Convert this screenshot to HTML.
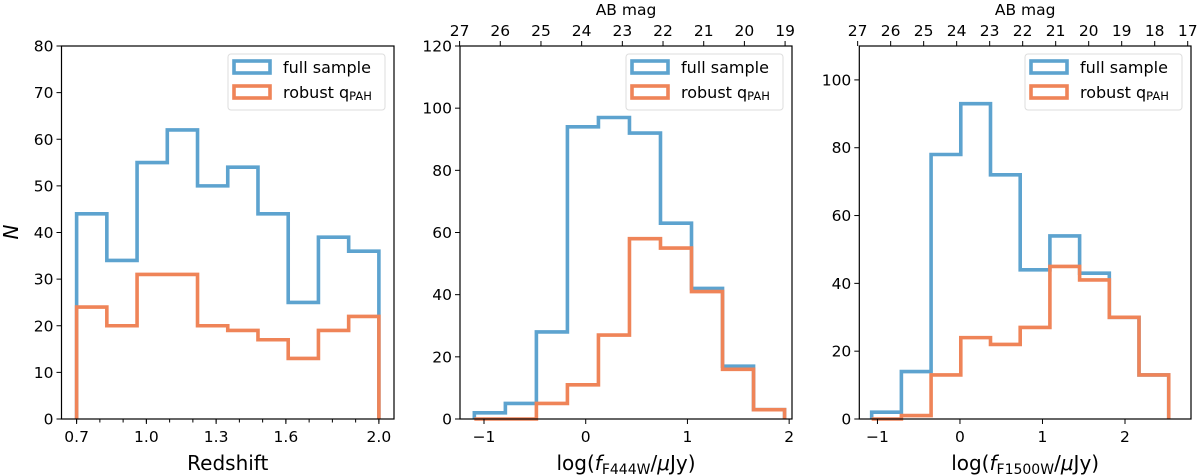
<!DOCTYPE html>
<html><head><meta charset="utf-8">
<style>
html,body{margin:0;padding:0;background:#fff;}
svg{display:block;font-family:"DejaVu Sans","Liberation Sans",sans-serif;}
</style></head>
<body>
<svg id="chart" width="1200" height="476" viewBox="0 0 1200 476" xmlns="http://www.w3.org/2000/svg"></svg>
<script>
// Panel 1: redshift
const zEdges = [0.7,0.83,0.96,1.09,1.22,1.35,1.48,1.61,1.74,1.87,2.0];
const zFull = [44,34,55,62,50,54,44,25,39,36];
const zRobust = [24,20,31,31,20,19,17,13,19,22];
const zTicks = [0.7,1.0,1.3,1.6,2.0];
const zTickLabels = ["0.7","1.0","1.3","1.6","2.0"];
const zYTicks = [0,10,20,30,40,50,60,70,80];
// Panel 2: F444W
const f4Edges = [-1.095,-0.79,-0.485,-0.18,0.125,0.43,0.735,1.04,1.345,1.65,1.955];
const f4Full = [2,5,28,94,97,92,63,42,17,3];
const f4Robust = [0,0,5,11,27,58,55,41,16,3];
const f4Ticks = [-1,0,1,2];
const f4TickLabels = ["\u22121","0","1","2"];
const f4YTicks = [0,20,40,60,80,100,120];
const f4Mags = [27,26,25,24,23,22,21,20,19];
// Panel 3: F1500W
const f15Edges = [-1.07,-0.71,-0.35,0.01,0.37,0.73,1.09,1.45,1.81,2.17,2.53];
const f15Full = [2,14,78,93,72,44,54,43,30,13];
const f15Robust = [0,1,13,24,22,27,45,41,30,13];
const f15Ticks = [-1,0,1,2];
const f15TickLabels = ["\u22121","0","1","2"];
const f15YTicks = [0,20,40,60,80,100];
const f15Mags = [27,26,25,24,23,22,21,20,19,18,17];

const NS="http://www.w3.org/2000/svg";
const svg=document.getElementById('chart');
const BLUE="#5da3cf", ORANGE="#ef8458";
function el(tag,attrs,parent){const e=document.createElementNS(NS,tag);for(const k in attrs)e.setAttribute(k,attrs[k]);(parent||svg).appendChild(e);return e;}
function txt(s,attrs,parent){const t=el('text',attrs,parent);t.textContent=s;return t;}

function panel(cfg){
  const g=el('g',{});
  
  
  const L=cfg.L,R=cfg.R,T=46,B=419;
  const sx=v=>L+(v-cfg.xmin)/(cfg.xmax-cfg.xmin)*(R-L);
  const sy=v=>B-(v-0)/(cfg.ymax)*(B-T);
  function hist(edges,vals,color,nm){
    let d=`M${sx(edges[0])},${sy(0)}`;
    for(let i=0;i<vals.length;i++){d+=` L${sx(edges[i])},${sy(vals[i])} L${sx(edges[i+1])},${sy(vals[i])}`;}
    d+=` L${sx(edges[edges.length-1])},${sy(0)}`;
    const p=el('path',{d:d,fill:'none',stroke:color,'stroke-width':3.6,'stroke-linejoin':'miter'},g);
    
    
  }
  hist(cfg.edges,cfg.full,BLUE,'full-sample-histogram');
  hist(cfg.edges,cfg.robust,ORANGE,'robust-qpah-histogram');
  const frame=el('rect',{x:L,y:T,width:R-L,height:B-T,fill:'none',stroke:'#000','stroke-width':1.2},g);
  
  
  // y ticks
  cfg.yticks.forEach(v=>{
    el('line',{x1:L-5,x2:L,y1:sy(v),y2:sy(v),stroke:'#000','stroke-width':1},g);
    const t=txt(String(v),{x:L-8,y:sy(v)+5.5,'text-anchor':'end','font-size':15.5,fill:'#000'},g);
    
    
  });
  // x minor
  (cfg.minor||[]).forEach(v=>el('line',{x1:sx(v),x2:sx(v),y1:B,y2:B+3.5,stroke:'#000','stroke-width':1},g));
  cfg.xticks.forEach((v,i)=>{
    el('line',{x1:sx(v),x2:sx(v),y1:B,y2:B+5,stroke:'#000','stroke-width':1},g);
    const t=txt(cfg.xlabels[i],{x:sx(v),y:B+23,'text-anchor':'middle','font-size':15.5,fill:'#000'},g);
    
    
  });
  if(cfg.mags){
    cfg.mags.forEach(m=>{
      const x=sx((23.9-m)/2.5);
      el('line',{x1:x,x2:x,y1:T-5,y2:T,stroke:'#000','stroke-width':1},g);
      const t=txt(String(m),{x:x,y:T-10,'text-anchor':'middle','font-size':15.5,fill:'#000'},g);
      
      
    });
    const at=txt('AB mag',{x:(L+R)/2,y:15,'text-anchor':'middle','font-size':15.5,fill:'#000'},g);
    
    
  }
  // legend
  const lx=R-166,ly=54;
  const lg=el('g',{},g);
  
  
  el('rect',{x:lx,y:ly,width:157,height:56,rx:3,fill:'#fff',stroke:'#ddd','stroke-width':1},lg);
  el('rect',{x:lx+6,y:ly+7,width:36,height:12,fill:'none',stroke:BLUE,'stroke-width':3.6},lg);
  el('rect',{x:lx+6,y:ly+32,width:36,height:12,fill:'none',stroke:ORANGE,'stroke-width':3.6},lg);
  const e1=txt('full sample',{x:lx+55,y:ly+19,'font-size':16,fill:'#000'},lg);
  
  
  const e2=txt('',{x:lx+55,y:ly+44,'font-size':16,fill:'#000'},lg);
  e2.innerHTML='robust q<tspan font-size="11.5" dy="2">PAH</tspan>';
  
  
  // x title
  const xt=txt('',{x:(L+R)/2,y:470,'text-anchor':'middle','font-size':20,fill:'#000'},g);
  xt.innerHTML=cfg.xtitle;
  
  
}

const zMinor=[];for(let i=0;i<=13;i++)zMinor.push(0.7+i*0.1);
panel({name:'redshift-panel',L:61.5,R:394,xmin:0.635,xmax:2.065,ymax:80,edges:zEdges,full:zFull,robust:zRobust,xticks:zTicks,xlabels:zTickLabels,yticks:zYTicks,minor:zMinor,xtitle:'Redshift'});
panel({name:'f444w-panel',L:460,R:792,xmin:-1.236,xmax:2.028,ymax:120,edges:f4Edges,full:f4Full,robust:f4Robust,xticks:f4Ticks,xlabels:f4TickLabels,yticks:f4YTicks,mags:f4Mags,xtitle:'log(<tspan font-style="italic">f</tspan><tspan font-size="14" dy="4">F444W</tspan><tspan dy="-4">/</tspan><tspan font-style="italic">μ</tspan>Jy)'});
panel({name:'f1500w-panel',L:859.3,R:1191,xmin:-1.22,xmax:2.80,ymax:110,edges:f15Edges,full:f15Full,robust:f15Robust,xticks:f15Ticks,xlabels:f15TickLabels,yticks:f15YTicks,mags:f15Mags,xtitle:'log(<tspan font-style="italic">f</tspan><tspan font-size="14" dy="4">F1500W</tspan><tspan dy="-4">/</tspan><tspan font-style="italic">μ</tspan>Jy)'});

const yt=txt('N',{x:0,y:0,'text-anchor':'middle','font-size':20,'font-style':'italic',fill:'#000',transform:'translate(18,232) rotate(-90)'});


</script>
</body></html>
